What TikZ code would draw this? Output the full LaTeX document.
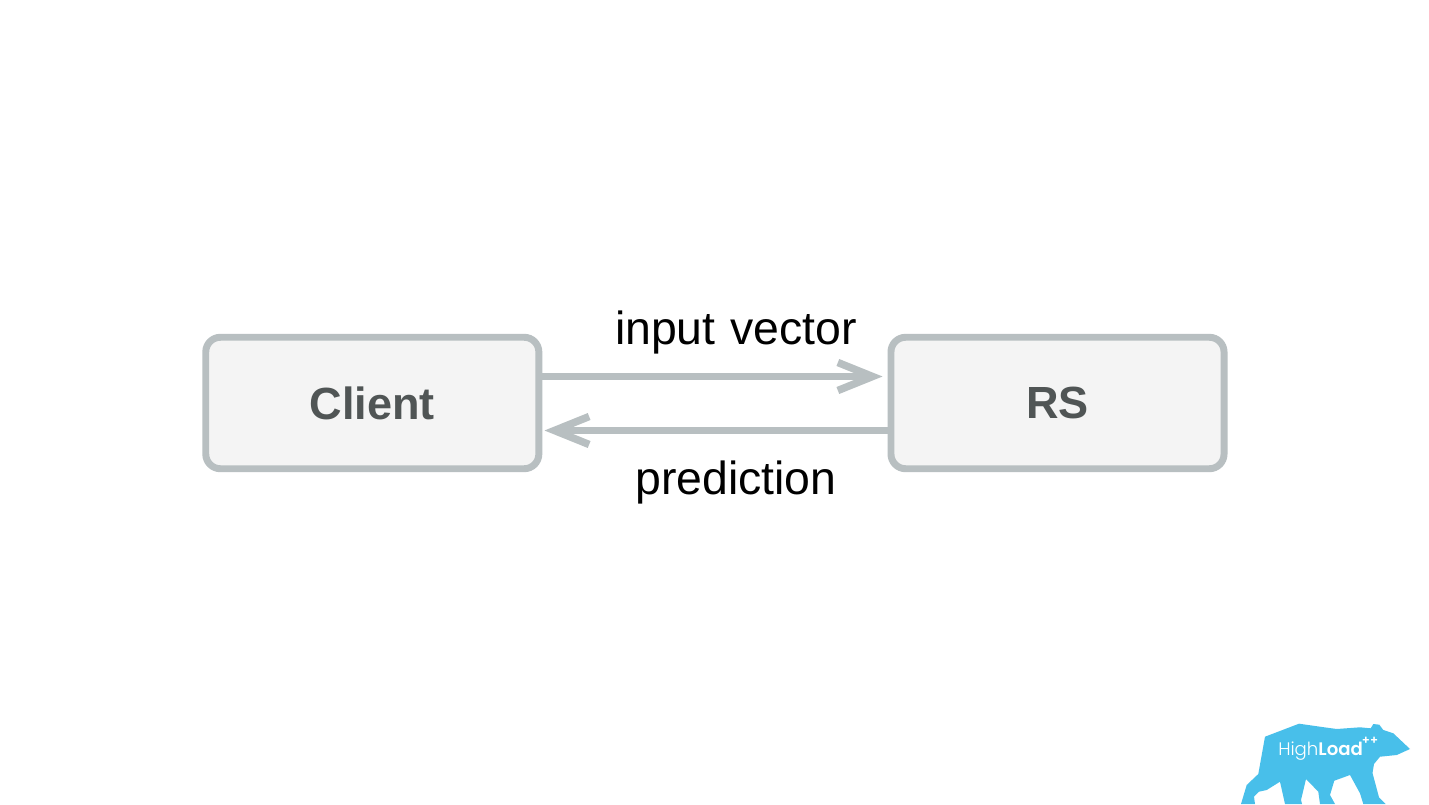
\documentclass[tikz,border=0pt]{standalone}
\usepackage{fontspec}
\setmainfont{Liberation Sans}
\newfontfamily\logofont[UprightFont=* Light,BoldFont=* SemiBold]{Poppins}
\usetikzlibrary{arrows.meta}
\definecolor{edgegrey}{HTML}{B8BFC1}
\definecolor{boxfill}{HTML}{F4F4F4}
\definecolor{boxtext}{HTML}{505555}
\definecolor{bearblue}{HTML}{48BFEA}
\tikzset{
  x=0.75pt,y=-0.75pt,
  block/.style={draw=edgegrey,fill=boxfill,line width=5.2pt,rounded corners=11pt,
    minimum width=249.8pt,minimum height=98.6pt,inner sep=0pt,outer sep=2.6pt,
    text=boxtext,font=\fontsize{33.8pt}{36pt}\selectfont\bfseries},
  flow/.style={draw=edgegrey,line width=5pt,
    -{Straight Barb[length=26pt,width=21pt,line width=5.6pt,sharp]}},
  caption/.style={text=black,inner sep=0pt,font=\fontsize{34.8pt}{38pt}\selectfont}
}
\begin{document}
\begin{tikzpicture}
\useasboundingbox (0,0) rectangle (1429,804);
\fill[white] (0,0) rectangle (1429,804);
\node[block] (client) at (372.3,403) {Client};
\node[block] (rs) at (1057.5,403) {RS};
\coordinate (topend) at (882.5,376.5);
\coordinate (botend) at (544.5,430.5);
\draw[flow] (client.east |- topend) -- (topend);
\draw[flow] (rs.west |- botend) -- (botend);
\node[caption] (inp) at (736,332) {input\hspace{1.5pt} vector};
\node[caption] (pred) at (736,482) {prediction};
% bear emblem, traced clockwise from the rear foot
\fill[bearblue] (1241,804) -- (1246.7,785) -- (1258.3,774) -- (1265,736.7) -- (1299,723.7)
  -- (1320,726.7) -- (1336.7,729) -- (1360,727.3) -- (1370.7,728.3) -- (1373.3,724) -- (1379.3,724.7)
  -- (1383.3,730) -- (1393.3,733.3) -- (1410,749) -- (1396.7,755) -- (1380,756.7) -- (1374,764)
  -- (1372.5,773) -- (1379,797.3) -- (1385.7,804) -- (1363.3,804) -- (1360,793.3) -- (1350,775)
  -- (1334.3,780.7) -- (1330,795) -- (1335,804) -- (1320,804) -- (1318.3,791.7) -- (1306,779)
  -- (1301,800) -- (1302,804) -- (1285,804) -- (1280,781.7) -- (1266.7,790) -- (1259,791.7)
  -- (1254,796.7) -- (1255,804) -- cycle;
\node[text=white,inner sep=0pt,anchor=base west,font=\logofont\fontsize{13.6pt}{15pt}\selectfont] (logo) at (1278,755) {High\textbf{Load}};
\node[text=white,inner sep=0pt,font=\logofont\bfseries\fontsize{9pt}{10pt}\selectfont] (plus) at (1370,741) {++};
\end{tikzpicture}
\end{document}
